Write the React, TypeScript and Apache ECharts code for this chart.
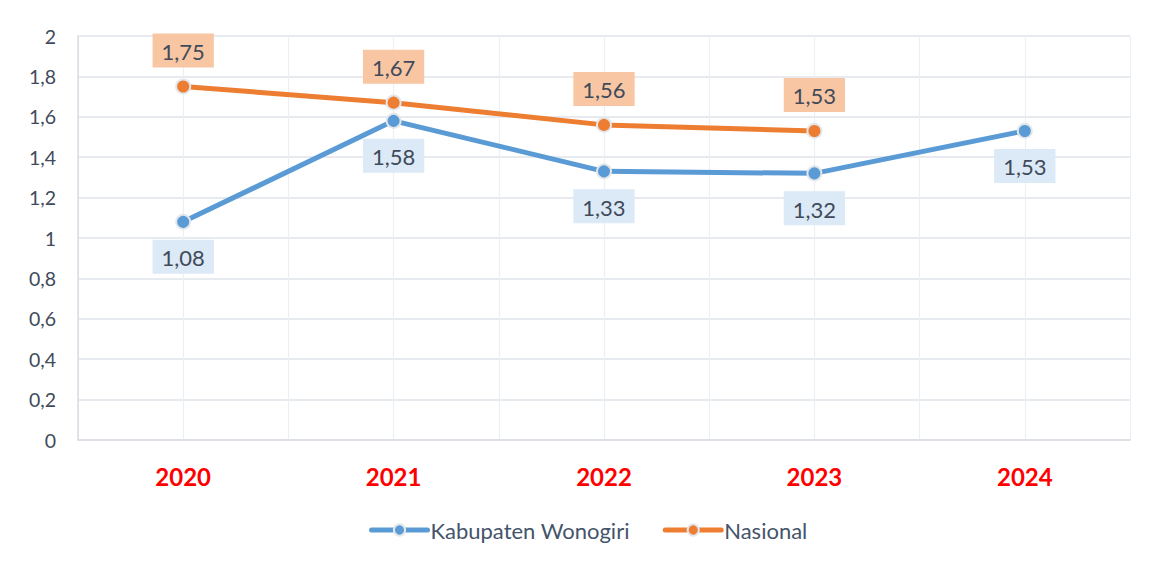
import React, { useEffect, useRef } from "react";
import * as echarts from "echarts";

const categories = ["2020", "2021", "2022", "2023", "2024"];
const wonogiri = [1.08, 1.58, 1.33, 1.32, 1.53];
const nasional = [1.75, 1.67, 1.56, 1.53, null];
const halfSteps = ["a", "b", "c", "d", "e", "f", "g", "h", "i", "j"];

const fmt = (v: number) => String(v).replace(".", ",");

export default function App() {
  const ref = useRef<HTMLDivElement>(null);
  useEffect(() => {
    if (!ref.current) return;
    const chart = echarts.init(ref.current, undefined, { renderer: "svg" });
    const font = "Lato, 'Open Sans', sans-serif";
    chart.setOption({
      animation: false,
      graphic: [
        {
          type: "rect",
          shape: { x: 7.5, y: 5.5, width: 1160, height: 580 },
          style: { fill: "none", stroke: "#dfe3e8", lineWidth: 1 },
          silent: true,
        },
      ],
      grid: { left: 78, right: 25, top: 36, bottom: 125 },
      legend: {
        bottom: 19,
        left: 364,
        itemWidth: 56,
        itemHeight: 14,
        itemGap: 33,
        lineStyle: { width: 5, cap: "round" },
        itemStyle: { borderColor: "#e3e6ea", borderWidth: 2 },
        textStyle: { fontFamily: font, fontSize: 22, color: "#44546a", padding: [0, 0, 0, -2] },
        data: ["Kabupaten Wonogiri", "Nasional"],
      },
      xAxis: [
        {
          type: "category",
          data: categories,
          boundaryGap: true,
          axisLine: { lineStyle: { color: "#d9dde3", width: 1.5 } },
          axisTick: { show: false },
          splitLine: { show: false },
          axisLabel: {
            margin: 24,
            color: "#ff0000",
            fontWeight: "bold",
            fontSize: 24,
            fontFamily: font,
          },
        },
        {
          type: "category",
          data: halfSteps,
          boundaryGap: true,
          position: "bottom",
          axisLine: { show: false },
          axisTick: { show: false },
          axisLabel: { show: false },
          splitLine: { show: true, lineStyle: { color: "#eceff3", width: 1.2 } },
        },
      ],
      yAxis: {
        type: "value",
        min: 0,
        max: 2,
        interval: 0.2,
        axisLine: { show: true, lineStyle: { color: "#d9dde3", width: 1.5 } },
        axisTick: { show: false },
        splitLine: { lineStyle: { color: "#dfe3e8", width: 1.5 } },
        axisLabel: {
          margin: 22,
          color: "#404a5a",
          fontSize: 19.5,
          fontFamily: font,
          formatter: (v: number) => fmt(Math.round(v * 10) / 10),
        },
      },
      series: [
        {
          name: "Kabupaten Wonogiri",
          type: "line",
          data: wonogiri,
          color: "#5b9bd5",
          lineStyle: { width: 5, color: "#5b9bd5" },
          symbol: "circle",
          symbolSize: 14,
          itemStyle: { color: "#5b9bd5", borderColor: "#e3e6ea", borderWidth: 2 },
          label: {
            show: true,
            position: "bottom",
            distance: 10,
            formatter: (p: any) => fmt(p.value),
            backgroundColor: "#dce9f6",
            padding: [7, 9, 5, 9],
            color: "#404a5a",
            fontSize: 22,
            fontFamily: font,
          },
          z: 3,
        },
        {
          name: "Nasional",
          type: "line",
          data: nasional,
          color: "#ed7d31",
          lineStyle: { width: 5, color: "#ed7d31" },
          symbol: "circle",
          symbolSize: 14,
          itemStyle: { color: "#ed7d31", borderColor: "#e3e6ea", borderWidth: 2 },
          label: {
            show: true,
            position: "top",
            distance: 11,
            formatter: (p: any) => fmt(p.value),
            backgroundColor: "#f8c6a2",
            padding: [7, 9, 5, 9],
            color: "#404a5a",
            fontSize: 22,
            fontFamily: font,
          },
          z: 4,
        },
      ],
    });
    return () => chart.dispose();
  }, []);
  return <div ref={ref} style={{ width: 1155, height: 565, margin: -8 }} />;
}
